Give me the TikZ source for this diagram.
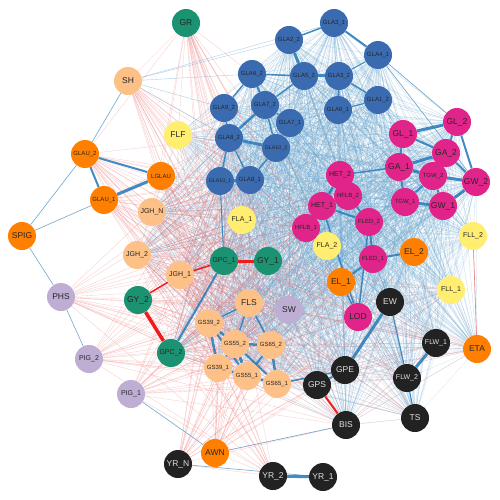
\documentclass[tikz,border=0pt]{standalone}
\usepackage{fontspec}
\setsansfont{Liberation Sans}
\usepackage{xcolor}
\usetikzlibrary{arrows.meta, positioning, calc}

\definecolor{cBlue}{HTML}{3A6BB0}
\definecolor{cMag}{HTML}{E0248A}
\definecolor{cOrg}{HTML}{FF7F00}
\definecolor{cPch}{HTML}{FDC086}
\definecolor{cYel}{HTML}{FFEE70}
\definecolor{cGrn}{HTML}{1B9272}
\definecolor{cLav}{HTML}{BEAED4}
\definecolor{cBlk}{HTML}{222222}
\definecolor{eBlue}{HTML}{2F80BD}
\definecolor{eLtBlue}{HTML}{6FA8D0}
\definecolor{eRed}{HTML}{EE1C1C}
\definecolor{eLtRed}{HTML}{F07878}

\pgfdeclarelayer{edges}
\pgfsetlayers{edges,main}

% node groups for the edge meshes
\def\topset{gla31,gla22,gla41,gla62,gla52,gla32,gla92,gla72,gla61,gla12,gla71,gla82,gla102,gla101,gla81,gl1,gl2,ga1,ga2,tgw1,tgw2,gw1,gw2,het1,het2,hflb1,hflb2,fled1,fled2}
\def\lowset{flf,fla1,fla2,fll1,fll2,el1,el2,lod,ew,gpe,gps,flw1,flw2,ts,sw,fls,gpc1,gpc2,jgh1,jgh2,jghn,gs392,gs552,gs652,gs391,gs551,gs651,eta,bis}
\def\redsrc{gr,sh,glau2,glau1,lglau,jghn,jgh2,jgh1,phs,pig2,pig1,gy2,gpc2,yrn,awn}
\def\redtgt{fls,sw,gs392,gs552,gs652,gs391,gs551,gs651,fla1,gpc1,gy1,gla101,gla81,gla82,hflb1,het1,el1,lod,gpe,gps,bis,yr2}

\begin{document}
\begin{tikzpicture}[
  x=1pt, y=-1pt,
  vtx/.style   = {circle, minimum size=28pt, inner sep=0pt, text=black!85},
  txtL/.style  = {font=\sffamily\fontsize{8.5}{9}\selectfont},
  txtM/.style  = {font=\sffamily\fontsize{7}{7}\selectfont},
  txtS/.style  = {font=\sffamily\fontsize{6}{6}\selectfont},
  txtXS/.style = {font=\sffamily\fontsize{5.3}{5}\selectfont},
  blu/.style   = {vtx, fill=cBlue},
  mag/.style   = {vtx, fill=cMag},
  org/.style   = {vtx, fill=cOrg},
  pch/.style   = {vtx, fill=cPch},
  yel/.style   = {vtx, fill=cYel},
  grn/.style   = {vtx, fill=cGrn},
  lav/.style   = {vtx, fill=cLav},
  blk/.style   = {vtx, fill=cBlk, text=white!88!black},
  meshb/.style = {eLtBlue, line width=0.35pt, opacity=0.38},
  meshr/.style = {eLtRed, line width=0.35pt, opacity=0.36},
  wblue/.style = {eBlue, opacity=0.9},
  wred/.style  = {eRed}
]
\useasboundingbox (0,0) rectangle (500,500);

% ── GLA cluster ──────────────────────────────────────────────────────────────
\node[blu, txtS]  (gla31)  at (334,23)  {GLA3\_1};
\node[blu, txtS]  (gla22)  at (289,40)  {GLA2\_2};
\node[blu, txtS]  (gla41)  at (378,55)  {GLA4\_1};
\node[blu, txtS]  (gla62)  at (252,74)  {GLA6\_2};
\node[blu, txtS]  (gla52)  at (304,76)  {GLA5\_2};
\node[blu, txtS]  (gla32)  at (339,76)  {GLA3\_2};
\node[blu, txtS]  (gla92)  at (224,108) {GLA9\_2};
\node[blu, txtS]  (gla72)  at (265,105) {GLA7\_2};
\node[blu, txtS]  (gla61)  at (338,110) {GLA6\_1};
\node[blu, txtS]  (gla12)  at (378,100) {GLA1\_2};
\node[blu, txtS]  (gla71)  at (290,123) {GLA7\_1};
\node[blu, txtS]  (gla82)  at (229,138) {GLA8\_2};
\node[blu, txtXS] (gla102) at (276,148) {GLA10\_2};
\node[blu, txtXS] (gla101) at (220,181) {GLA10\_1};
\node[blu, txtS]  (gla81)  at (250,180) {GLA8\_1};

% ── magenta cluster ──────────────────────────────────────────────────────────
\node[mag, txtL]  (gl1)   at (403,134) {GL\_1};
\node[mag, txtL]  (gl2)   at (457,122) {GL\_2};
\node[mag, txtL]  (ga2)   at (446,153) {GA\_2};
\node[mag, txtL]  (ga1)   at (399,167) {GA\_1};
\node[mag, txtS]  (tgw2)  at (433,176) {TGW\_2};
\node[mag, txtL]  (gw2)   at (476,182) {GW\_2};
\node[mag, txtS]  (tgw1)  at (405,202) {TGW\_1};
\node[mag, txtL]  (gw1)   at (443,206) {GW\_1};
\node[mag, txtM]  (het2)  at (340,175) {HET\_2};
\node[mag, txtS]  (hflb2) at (348,196) {HFLB\_2};
\node[mag, txtM]  (het1)  at (322,206) {HET\_1};
\node[mag, txtS]  (hflb1) at (306,228) {HFLB\_1};
\node[mag, txtS]  (fled2) at (369,222) {FLED\_2};
\node[mag, txtS]  (fled1) at (373,259) {FLED\_1};
\node[mag, txtL]  (lod)   at (358,317) {LOD};

% ── left side ────────────────────────────────────────────────────────────────
\node[grn, txtL]  (gr)    at (186,23)  {GR};
\node[pch, txtL]  (sh)    at (128,81)  {SH};
\node[yel, txtL]  (flf)   at (178,135) {FLF};
\node[org, txtS]  (glau2) at (85,154)  {GLAU\_2};
\node[org, txtS]  (lglau) at (161,176) {LGLAU};
\node[org, txtS]  (glau1) at (104,200) {GLAU\_1};
\node[pch, txtM]  (jghn)  at (152,212) {JGH\_N};
\node[org, txtL]  (spig)  at (22,236)  {SPIG};
\node[pch, txtM]  (jgh2)  at (137,255) {JGH\_2};
\node[pch, txtM]  (jgh1)  at (180,275) {JGH\_1};
\node[lav, txtL]  (phs)   at (61,297)  {PHS};
\node[grn, txtL]  (gy2)   at (138,300) {GY\_2};
\node[lav, txtM]  (pig2)  at (89,359)  {PIG\_2};
\node[grn, txtM]  (gpc2)  at (171,353) {GPC\_2};
\node[lav, txtM]  (pig1)  at (131,394) {PIG\_1};

% ── centre ───────────────────────────────────────────────────────────────────
\node[yel, txtM]  (fla1)  at (242,220) {FLA\_1};
\node[grn, txtM]  (gpc1)  at (224,261) {GPC\_1};
\node[grn, txtL]  (gy1)   at (268,261) {GY\_1};
\node[yel, txtM]  (fla2)  at (327,246) {FLA\_2};
\node[pch, txtL]  (fls)   at (249,303) {FLS};
\node[lav, txtL]  (sw)    at (289,310) {SW};
\node[pch, txtS]  (gs392) at (209,323) {GS39\_2};
\node[pch, txtS]  (gs552) at (235,344) {GS55\_2};
\node[pch, txtS]  (gs652) at (271,345) {GS65\_2};
\node[pch, txtS]  (gs391) at (218,368) {GS39\_1};
\node[pch, txtS]  (gs551) at (247,376) {GS55\_1};
\node[pch, txtS]  (gs651) at (277,384) {GS65\_1};
\node[org, txtL]  (el1)   at (341,282) {EL\_1};
\node[org, txtL]  (el2)   at (414,252) {EL\_2};

% ── right and bottom ─────────────────────────────────────────────────────────
\node[yel, txtM]  (fll2)  at (473,236) {FLL\_2};
\node[yel, txtM]  (fll1)  at (451,290) {FLL\_1};
\node[blk, txtL]  (ew)    at (390,302) {EW};
\node[blk, txtM]  (flw1)  at (436,343) {FLW\_1};
\node[org, txtL]  (eta)   at (477,349) {ETA};
\node[blk, txtM]  (flw2)  at (407,378) {FLW\_2};
\node[blk, txtL]  (gpe)   at (345,370) {GPE};
\node[blk, txtL]  (gps)   at (317,385) {GPS};
\node[blk, txtL]  (bis)   at (346,425) {BIS};
\node[blk, txtL]  (ts)    at (415,418) {TS};
\node[org, txtL]  (awn)   at (215,453) {AWN};
\node[blk, txtL]  (yrn)   at (178,464) {YR\_N};
\node[blk, txtL]  (yr2)   at (273,476) {YR\_2};
\node[blk, txtL]  (yr1)   at (323,477) {YR\_1};

\begin{pgfonlayer}{edges}
\fill[white] (0,0) rectangle (500,500);

% ── light meshes ─────────────────────────────────────────────────────────────
\foreach \a [count=\i] in \topset {
  \foreach \b [count=\j] in \topset {
    \ifnum\j>\i \draw[meshb] (\a) -- (\b); \fi
  }
  \foreach \b in \lowset { \draw[meshb] (\a) -- (\b); }
}
\foreach \a [count=\i] in \lowset {
  \foreach \b [count=\j] in \lowset {
    \ifnum\j>\i \draw[meshb, opacity=0.25] (\a) -- (\b); \fi
  }
}
\foreach \a in \redsrc {
  \foreach \b in \redtgt { \draw[meshr] (\a) -- (\b); }
}
\foreach \a in {sw,fls,gy1,gpc1,el1,lod,gs651,gs652,gps,gpe,bis} {
  \foreach \b in {eta,ts,flw2,flw1,fll1} { \draw[meshr, opacity=0.3] (\a) -- (\b); }
}
\foreach \a in {gla92,gla62,gla82,gla31,gla22} { \draw[meshb, opacity=0.6] (sh) -- (\a); }
\foreach \a in {sh,glau2,lglau,jghn,flf,gla92,gla62} { \draw[meshr] (gr) -- (\a); }

% ── outer links ──────────────────────────────────────────────────────────────
\foreach \a/\b in {spig/glau2, spig/glau1, spig/phs, phs/pig2, glau2/sh,
                   pig1/awn, yrn/yr1, awn/bis, gla41/gl2, gla41/gw2}
  \draw[eLtBlue, line width=0.6pt] (\a) -- (\b);
\draw[eLtRed, line width=0.6pt] (fll2) -- (eta);

% ── strong links ─────────────────────────────────────────────────────────────
\foreach \a/\b/\w in {gla22/gla52/3, gla52/gla32/3, gla22/gla31/1.5,
    gla31/gla41/2, gla41/gla32/1, gla32/gla12/1.5, gla62/gla52/1.5,
    gla62/gla72/2, gla62/gla92/1.5, gla72/gla71/1.5, gla72/gla82/2.5,
    gla92/gla82/1.5, gla82/gla102/3, gla72/gla102/1.5, gla71/gla102/1.5,
    gla101/gla81/3, gla82/gla101/1.5, gla82/gla81/1.5, gla102/gla81/1.5,
    gla52/gla72/1.5, gla32/gla61/1.5, gla12/gla61/1,
    gl1/gl2/3, gl1/ga1/2, gl1/ga2/2, ga1/ga2/3, ga2/gl2/2, ga1/tgw2/3,
    tgw2/gw2/3, ga2/gw2/2, gl2/gw2/2, gw2/gw1/3, tgw1/gw1/3, tgw2/tgw1/2,
    ga1/tgw1/2, tgw2/gw1/2, het2/het1/2.5, het2/hflb2/2, het1/hflb2/2,
    het1/hflb1/2, het1/fled2/2, hflb2/fled2/2, fled2/fled1/2, het2/ga1/1.5,
    fled1/el2/2, fled1/el1/2, el1/lod/1.5, het1/lod/1.5, fled2/lod/1.5,
    lglau/glau1/3, glau2/lglau/2, glau2/glau1/2,
    gs392/gs552/2.5, gs552/gs652/2.5, gs392/gs391/2.5, gs391/gs551/2.5,
    gs551/gs651/2.5, gs552/gs551/3, gs652/gs651/2.5, gs552/gs391/2,
    gs552/gs651/2, gs652/gs551/2, gs392/gs551/2, fls/gs552/1.5,
    fls/gs652/1.5, fls/gs392/1.5, gpc1/gpc2/2, gs651/gpe/1.5,
    ew/gpe/3, gpe/gps/2, flw1/flw2/3, yr2/yr1/3, flw2/ts/1, ew/flw2/1,
    gpc1/gla101/1}
  \draw[wblue, line width=\w pt] (\a) -- (\b);

\foreach \a/\b/\w in {gy2/gpc2/3.5, gpc1/gy1/3, jgh1/gpc1/1.5,
    jgh1/gy2/1.5, gps/bis/2}
  \draw[wred, line width=\w pt] (\a) -- (\b);
\end{pgfonlayer}

\end{tikzpicture}
\end{document}
